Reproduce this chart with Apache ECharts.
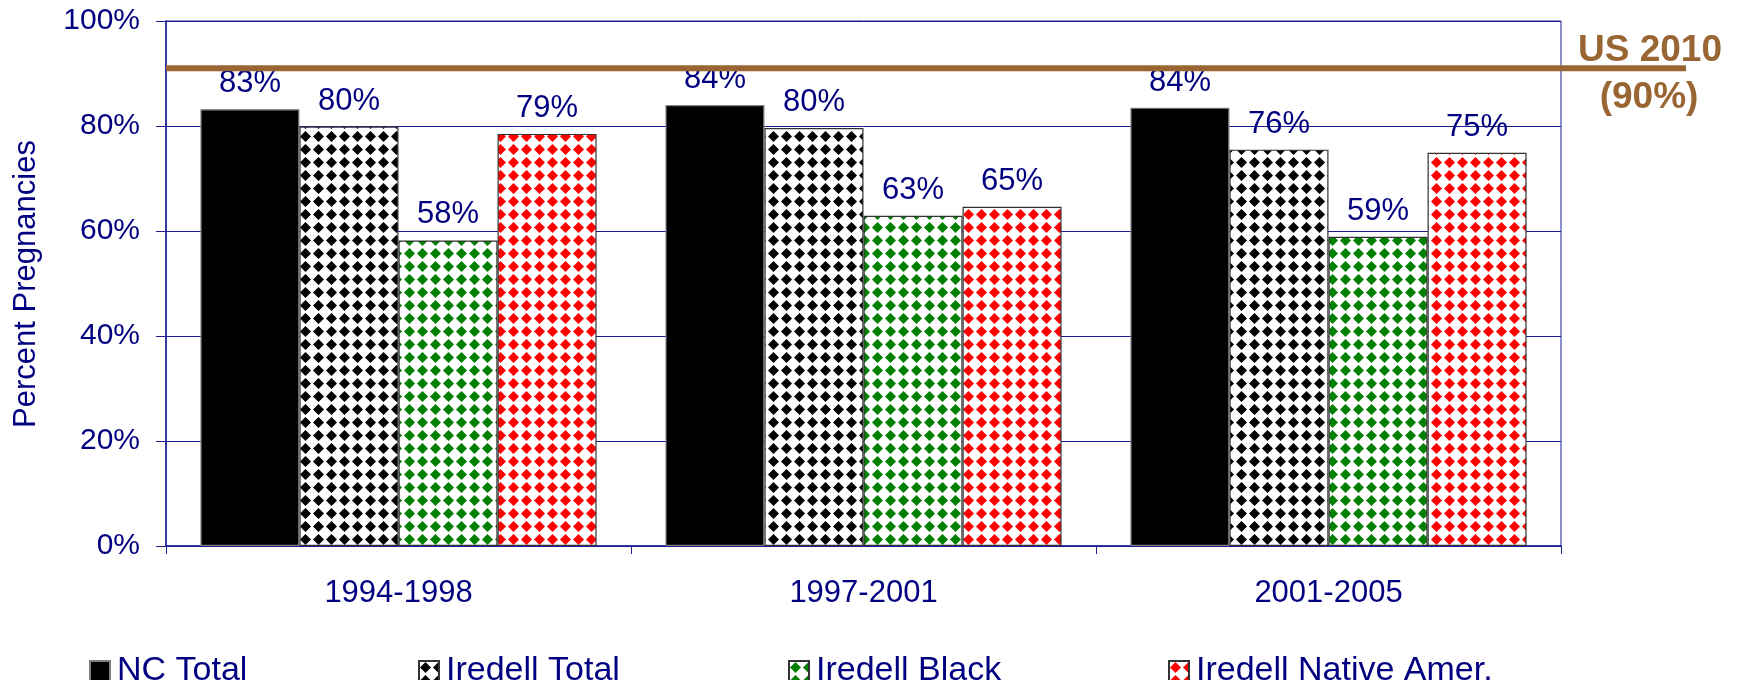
<!DOCTYPE html>
<html>
<head>
<meta charset="utf-8">
<script src="https://cdn.jsdelivr.net/npm/echarts@6/dist/echarts.min.js"></script>
<style>
html,body{margin:0;padding:0;background:#fff;}
#chart{width:1737px;height:680px;}
</style>
</head>
<body>
<div id="chart"></div>
<script>
const categories = ['1994-1998', '1997-2001', '2001-2005'];
const seriesNames = ['NC Total', 'Iredell Total', 'Iredell Black', 'Iredell Native Amer.'];
const ncTotal = [83.2, 84.0, 83.5];
const iredellTotal = [79.9, 79.6, 75.5];
const iredellBlack = [58.2, 62.9, 58.9];
const iredellNative = [78.5, 64.6, 74.9];
const yTicks = [0, 20, 40, 60, 80, 100];
const usTargetValue = 91;
const usTargetText = ['US 2010', '(90%)'];
const yAxisTitle = 'Percent Pregnancies';

const NAVY = '#000080';
const AXIS = '#1c1c96';
const BROWN = '#996633';
const FONT = '"Liberation Sans", Arial, sans-serif';

function makePattern(fg) {
  const c = document.createElement('canvas');
  c.width = 13; c.height = 13;
  const g = c.getContext('2d');
  g.fillStyle = '#fff';
  g.fillRect(0, 0, 13, 13);
  g.fillStyle = fg;
  g.beginPath();
  g.moveTo(6.5, 1); g.lineTo(12, 6.5); g.lineTo(6.5, 12); g.lineTo(1, 6.5);
  g.closePath(); g.fill();
  return { image: c, repeat: 'repeat' };
}

const fills = ['#000000', makePattern('#000000'), makePattern('#008000'), makePattern('#ff0000')];
const borders = ['#808080', '#333333', '#333333', '#333333'];
const values = [ncTotal, iredellTotal, iredellBlack, iredellNative];

const chart = echarts.init(document.getElementById('chart'), null, { renderer: 'canvas' });

const barSeries = seriesNames.map((name, i) => ({
  name: name,
  type: 'bar',
  xAxisIndex: 0,
  yAxisIndex: 0,
  data: values[i],
  barGap: '0%',
  barCategoryGap: '14.8%',
  itemStyle: { color: fills[i], borderColor: borders[i], borderWidth: 1.2 },
  label: {
    show: true,
    position: 'top',
    distance: 10,
    color: NAVY,
    fontFamily: FONT,
    fontSize: 31,
    formatter: p => Math.round(p.value) + '%'
  },
  emphasis: { disabled: true }
}));

const legendLefts = [89, 418, 788, 1168];
const legends = seriesNames.map((name, i) => ({
  data: [name],
  left: legendLefts[i],
  top: 654,
  padding: 0,
  itemWidth: 20,
  itemHeight: 20,
  icon: 'rect',
  selectedMode: false,
  textStyle: { color: NAVY, fontSize: 34, fontFamily: FONT, padding: [14, 0, 0, 2] }
}));

chart.setOption({
  backgroundColor: '#ffffff',
  animation: false,
  textStyle: { fontFamily: FONT },
  legend: legends,
  grid: [
    { left: 166, right: 176, top: 21, bottom: 134, show: true, borderColor: AXIS, borderWidth: 1, containLabel: false },
    { left: 166, right: 51, top: 21, bottom: 134, show: false, containLabel: false }
  ],
  xAxis: [
    {
      type: 'category',
      gridIndex: 0,
      data: categories,
      axisLine: { lineStyle: { color: AXIS, width: 1.5 } },
      axisTick: { show: true, length: 8, lineStyle: { color: AXIS } },
      axisLabel: { color: NAVY, fontSize: 31, fontFamily: FONT, margin: 32 }
    },
    { type: 'value', gridIndex: 1, min: 0, max: 1, show: false }
  ],
  yAxis: [
    {
      type: 'value',
      gridIndex: 0,
      min: 0,
      max: 100,
      interval: 20,
      axisLine: { show: true, lineStyle: { color: AXIS, width: 1.5 } },
      axisTick: { show: true, length: 10, lineStyle: { color: AXIS } },
      splitLine: { show: true, lineStyle: { color: AXIS, width: 1 } },
      axisLabel: {
        color: NAVY, fontSize: 30, fontFamily: FONT, margin: 26,
        formatter: v => (yTicks.indexOf(v) >= 0 ? v + '%' : '')
      }
    },
    { type: 'value', gridIndex: 1, min: 0, max: 100, show: false }
  ],
  graphic: [
    {
      type: 'text',
      x: 26, y: 284,
      rotation: Math.PI / 2,
      style: { text: yAxisTitle, fill: NAVY, fontSize: 31, fontFamily: FONT, textAlign: 'center', textVerticalAlign: 'middle' }
    },
    {
      type: 'text',
      x: 1650, y: 51,
      style: { text: usTargetText[0], fill: BROWN, fontSize: 37, fontWeight: 'bold', fontFamily: FONT, textAlign: 'center', textVerticalAlign: 'middle' }
    },
    {
      type: 'text',
      x: 1649, y: 98,
      style: { text: usTargetText[1], fill: BROWN, fontSize: 37, fontWeight: 'bold', fontFamily: FONT, textAlign: 'center', textVerticalAlign: 'middle' }
    }
  ],
  series: barSeries.concat([
    {
      name: 'US 2010 target',
      type: 'line',
      xAxisIndex: 1,
      yAxisIndex: 1,
      z: 5,
      data: [[0, usTargetValue], [1, usTargetValue]],
      symbol: 'none',
      lineStyle: { color: BROWN, width: 6 },
      silent: true
    }
  ])
});
</script>
</body>
</html>
